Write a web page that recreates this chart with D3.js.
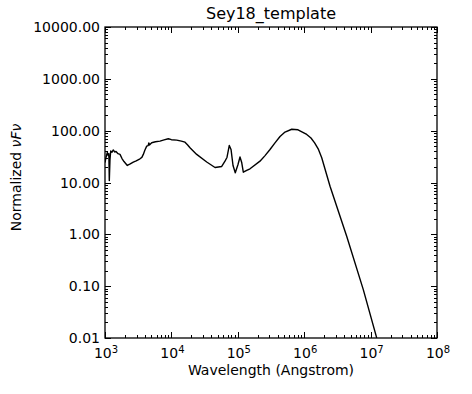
<!DOCTYPE html>
<html>
<head>
<meta charset="utf-8">
<script src="https://cdn.jsdelivr.net/npm/d3@7"></script>
<style>
  body { margin: 0; background: #fff; }
  text { font-family: "DejaVu Sans", sans-serif; fill: #000; }
</style>
</head>
<body>
<div id="chart"></div>
<script>
// chart data
const chartTitle = "Sey18_template";
const xTitle = "Wavelength (Angstrom)";
const wavelength = [
  1000, 1035, 1084, 1122, 1143, 1161, 1189, 1219, 1274, 1334,
  1396, 1466, 1570, 1683, 1803, 1932, 2168, 2399, 2667, 2951,
  3365, 3589, 3776, 3981, 4246, 4467, 4571, 4677, 5047, 5754,
  6730, 7762, 8974, 10000, 12023, 14125, 16032, 17579, 19055, 24044,
  34041, 45394, 57280, 64121, 68707, 74473, 79068, 84723, 91622, 100693,
  107895, 114551, 121060, 136144, 152757, 215774, 257040, 305492, 363080, 432514,
  514044, 648634, 807235, 1091440, 1264736, 1435489, 1640590, 1836538, 2449063, 4365158,
  7762471, 12359474
];
const flux = [
  24.3, 30.4, 37.9, 33.2, 36.0, 10.9, 27.8, 40.6, 38.5, 42.4,
  38.8, 39.6, 36.0, 34.8, 29.0, 25.4, 21.3, 22.8, 24.7, 26.2,
  28.7, 30.5, 34.8, 42.0, 50.3, 51.5, 58.0, 53.0, 58.4, 61.0,
  62.7, 66.5, 69.8, 67.0, 65.6, 63.0, 60.0, 53.0, 46.8, 34.8,
  24.9, 19.5, 20.4, 25.8, 30.4, 51.8, 43.4, 21.3, 15.4, 22.2,
  31.0, 24.3, 15.8, 17.1, 18.4, 25.8, 33.0, 43.4, 58.0, 77.0,
  94.0, 106.5, 104.0, 84.5, 72.3, 58.3, 43.4, 30.0, 8.49, 0.918,
  0.0859, 0.01005
];
const yTickValues = [0.01, 0.1, 1, 10, 100, 1000, 10000];
const xTickValues = [1e3, 1e4, 1e5, 1e6, 1e7, 1e8];

const width = 472, height = 394;
const margin = { top: 27, right: 35, bottom: 56, left: 105 };
const plotW = width - margin.left - margin.right;
const plotH = height - margin.top - margin.bottom;

const svg = d3.select("#chart").append("svg")
    .attr("width", width)
    .attr("height", height);

const x = d3.scaleLog().domain([1e3, 1e8]).range([margin.left, margin.left + plotW]);
const y = d3.scaleLog().domain([0.01, 1e4]).range([margin.top + plotH, margin.top]);

const isMajor = v => Math.abs(Math.log10(v) - Math.round(Math.log10(v))) < 1e-9;

// inward ticks on all four sides
const tickG = svg.append("g").attr("stroke", "#000").attr("stroke-width", 1);
x.ticks().forEach(v => {
  const len = isMajor(v) ? 6 : 3;
  const px = Math.round(x(v)) + 0.5;
  tickG.append("line").attr("x1", px).attr("x2", px)
      .attr("y1", y.range()[0]).attr("y2", y.range()[0] - len);
  tickG.append("line").attr("x1", px).attr("x2", px)
      .attr("y1", y.range()[1]).attr("y2", y.range()[1] + len);
});
y.ticks().forEach(v => {
  const len = isMajor(v) ? 6 : 3;
  const py = Math.round(y(v)) + 0.5;
  tickG.append("line").attr("y1", py).attr("y2", py)
      .attr("x1", x.range()[0]).attr("x2", x.range()[0] + len);
  tickG.append("line").attr("y1", py).attr("y2", py)
      .attr("x1", x.range()[1]).attr("x2", x.range()[1] - len);
});

// frame
svg.append("rect")
    .attr("x", margin.left).attr("y", margin.top)
    .attr("width", plotW).attr("height", plotH)
    .attr("fill", "none").attr("stroke", "#000").attr("stroke-width", 1.3);

// y tick labels
svg.append("g").selectAll("text")
    .data(yTickValues)
    .enter().append("text")
    .attr("x", margin.left - 5)
    .attr("y", d => y(d) + 5)
    .attr("text-anchor", "end")
    .style("font-size", "14px")
    .text(d => d3.format(".2f")(d));

// x tick labels 10^n
const xl = svg.append("g").selectAll("text")
    .data(xTickValues)
    .enter().append("text")
    .attr("x", d => x(d) + 1)
    .attr("y", 358)
    .attr("text-anchor", "middle")
    .style("font-size", "14px");
xl.append("tspan").text("10");
xl.append("tspan").attr("dy", -5).style("font-size", "10px")
    .text(d => Math.round(Math.log10(d)));

// titles
svg.append("text")
    .attr("x", margin.left + plotW / 2)
    .attr("y", 19)
    .attr("text-anchor", "middle")
    .style("font-size", "16px")
    .text(chartTitle);

svg.append("text")
    .attr("x", margin.left + plotW / 2)
    .attr("y", 375)
    .attr("text-anchor", "middle")
    .style("font-size", "14px")
    .text(xTitle);

const yt = svg.append("text")
    .attr("transform", `translate(21,${margin.top + plotH / 2 - 5}) rotate(-90)`)
    .attr("text-anchor", "middle")
    .style("font-size", "14px");
yt.append("tspan").text("Normalized ");
yt.append("tspan").style("font-style", "italic").text("\u03BDF\u03BD");

// spectrum
svg.append("clipPath").attr("id", "clip")
  .append("rect")
    .attr("x", margin.left).attr("y", margin.top)
    .attr("width", plotW).attr("height", plotH);

const line = d3.line()
    .x((d, i) => x(wavelength[i]))
    .y(d => y(d));

svg.append("path")
    .datum(flux)
    .attr("clip-path", "url(#clip)")
    .attr("fill", "none")
    .attr("stroke", "#000")
    .attr("stroke-width", 1.4)
    .attr("stroke-linejoin", "round")
    .attr("d", line);
</script>
</body>
</html>
